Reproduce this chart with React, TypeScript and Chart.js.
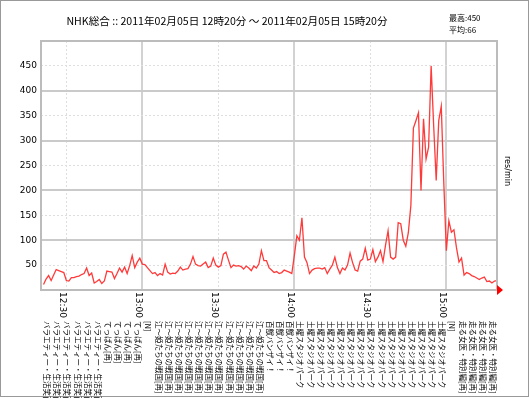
import { useEffect, useRef } from 'react';
import { Chart, registerables } from 'chart.js';

Chart.register(...registerables);

// responses per minute, 12:21 .. 15:20
const rates = [
  11, 22, 29, 19, 30, 41, 39, 37, 35, 19,
  18, 25, 25, 27, 28, 31, 33, 44, 29, 34,
  14, 17, 21, 13, 18, 38, 37, 36, 23, 33,
  44, 36, 46, 33, 49, 69, 45, 56, 64, 52,
  51, 45, 39, 33, 35, 29, 33, 30, 52, 36,
  32, 34, 33, 38, 46, 40, 42, 43, 52, 67,
  52, 49, 48, 52, 56, 45, 48, 64, 50, 46,
  49, 72, 76, 60, 45, 50, 48, 49, 47, 42,
  48, 44, 39, 48, 44, 52, 79, 59, 59, 45,
  40, 35, 37, 33, 35, 40, 38, 36, 33, 69,
  109, 100, 145, 66, 55, 33, 40, 43, 44, 44,
  42, 45, 33, 42, 50, 66, 45, 33, 44, 40,
  50, 74, 55, 40, 38, 58, 62, 84, 60, 62,
  81, 57, 66, 79, 57, 90, 119, 66, 62, 66,
  135, 133, 100, 88, 115, 170, 325, 340, 356, 200,
  344, 263, 287, 450, 330, 220, 340, 369, 215, 79,
  139, 116, 121, 85, 56, 64, 30, 35, 33, 29,
  27, 24, 21, 24, 26, 17, 18, 14, 18, 19,
];
const firstMinute = 1;
const totalMinutes = 180;

const yTickValues = [50, 100, 150, 200, 250, 300, 350, 400, 450];
const timeTickMinutes = [10, 40, 70, 100, 130, 160];
const timeTickLabels = ['12:30', '13:00', '13:30', '14:00', '14:30', '15:00'];

const programNames = [
  'バラエティー・生活笑百',
  'てっぱん[再]',
  '[N]',
  '江～姫たちの戦国[再]',
  '百獣バンザイ！',
  '土曜スタジオパーク',
  '[N]',
  '走る女医・特別編[再]',
];
const programCounts = [6, 4, 1, 11, 3, 15, 1, 4];
const programStep = 4;

const titleText = 'NHK総合 :: 2011年02月05日 12時20分 ～ 2011年02月05日 15時20分';
const maxText = '最高:450';
const avgText = '平均:66';
const unitText = 'res/min';

const JP = '"Noto Sans CJK JP", sans-serif';
const SANS = '"DejaVu Sans", sans-serif';

const overlay = {
  id: 'overlay',
  afterDraw(chart: any) {
    const { ctx, chartArea: a, scales } = chart;
    const x = scales.x;
    ctx.save();
    // plot frame
    ctx.strokeStyle = '#bcbcbc';
    ctx.lineWidth = 2;
    ctx.strokeRect(a.left, a.top, a.right - a.left, a.bottom - a.top);
    // outer frame
    ctx.strokeStyle = '#999999';
    ctx.lineWidth = 1;
    ctx.strokeRect(0.5, 0.5, 528, 396);

    ctx.fillStyle = '#000';
    // title
    ctx.font = '10.6px ' + JP;
    ctx.textAlign = 'center';
    ctx.textBaseline = 'middle';
    ctx.fillText(titleText, 227, 21);
    // stats
    ctx.font = '8px ' + JP;
    ctx.textAlign = 'left';
    ctx.fillText(maxText, 449, 18);
    ctx.fillText(avgText, 449, 30);

    const vtext = (t: string, px: number, py: number, font: string) => {
      ctx.save();
      ctx.translate(px, py);
      ctx.rotate(Math.PI / 2);
      ctx.font = font;
      ctx.textAlign = 'left';
      ctx.textBaseline = 'top';
      ctx.fillText(t, 0, 0);
      ctx.restore();
    };

    // time labels
    timeTickMinutes.forEach((m, i) => {
      vtext(timeTickLabels[i], Math.round(x.getPixelForValue(m)) + 1, a.bottom + 2, '9px ' + SANS);
    });

    // program labels
    let k = 0;
    programNames.forEach((name, gi) => {
      for (let j = 0; j < programCounts[gi]; j++) {
        k++;
        const m = k * programStep;
        vtext(name, Math.round(x.getPixelForValue(m)), 321, '7.5px ' + JP);
      }
    });

    // unit
    vtext(unitText, 511, 156, '8px ' + SANS);

    // red arrow
    ctx.fillStyle = '#ff0000';
    ctx.beginPath();
    ctx.moveTo(a.right, a.bottom - 5);
    ctx.lineTo(a.right + 6, a.bottom);
    ctx.lineTo(a.right, a.bottom + 5);
    ctx.closePath();
    ctx.fill();
    ctx.restore();
  },
};

export default function App() {
  const ref = useRef<HTMLCanvasElement>(null);
  useEffect(() => {
    document.body.style.margin = '0';
    const canvas = ref.current!;
    const points = rates.map((v, i) => ({ x: firstMinute + i, y: v }));
    const chart = new Chart(canvas, {
      type: 'line',
      data: {
        datasets: [
          {
            data: points,
            borderColor: '#ff3a3a',
            borderWidth: 1.3,
            pointRadius: 0,
            tension: 0,
            fill: false,
          },
        ],
      },
      options: {
        responsive: false,
        animation: false,
        events: [],
        layout: { padding: { left: 0, right: 33, top: 41, bottom: 108 } },
        plugins: { legend: { display: false }, tooltip: { enabled: false } },
        scales: {
          x: {
            type: 'linear',
            min: 0,
            max: totalMinutes,
            afterBuildTicks: (s: any) => {
              s.ticks = timeTickMinutes.map((v) => ({ value: v }));
            },
            afterFit: (s: any) => {
              s.height = 0;
            },
            ticks: { display: false },
            grid: {
              drawTicks: false,
              color: (c: any) => (c.tick && c.tick.value % 60 === 40 ? '#d2d2d2' : '#dedede'),
              lineWidth: (c: any) => (c.tick && c.tick.value % 60 === 40 ? 2 : 1),
            },
            border: {
              display: false,
              dash: (c: any) => (c.tick && c.tick.value % 60 === 40 ? [] : [2, 2]),
            },
          },
          y: {
            type: 'linear',
            min: 0,
            max: 500,
            afterBuildTicks: (s: any) => {
              s.ticks = yTickValues.map((v) => ({ value: v }));
            },
            afterFit: (s: any) => {
              s.width = 41;
            },
            ticks: {
              color: '#000',
              padding: 4,
              font: { family: 'DejaVu Sans', size: 9 },
            },
            grid: {
              drawTicks: false,
              color: (c: any) => (c.tick && c.tick.value % 100 === 0 ? '#cacaca' : '#dedede'),
              lineWidth: (c: any) => (c.tick && c.tick.value % 100 === 0 ? 2 : 1),
            },
            border: {
              display: false,
              dash: (c: any) => (c.tick && c.tick.value % 100 === 0 ? [] : [2, 2]),
            },
          },
        },
      },
      plugins: [overlay],
    });
    return () => chart.destroy();
  }, []);
  return <canvas ref={ref} width={530} height={398} style={{ display: 'block' }} />;
}
